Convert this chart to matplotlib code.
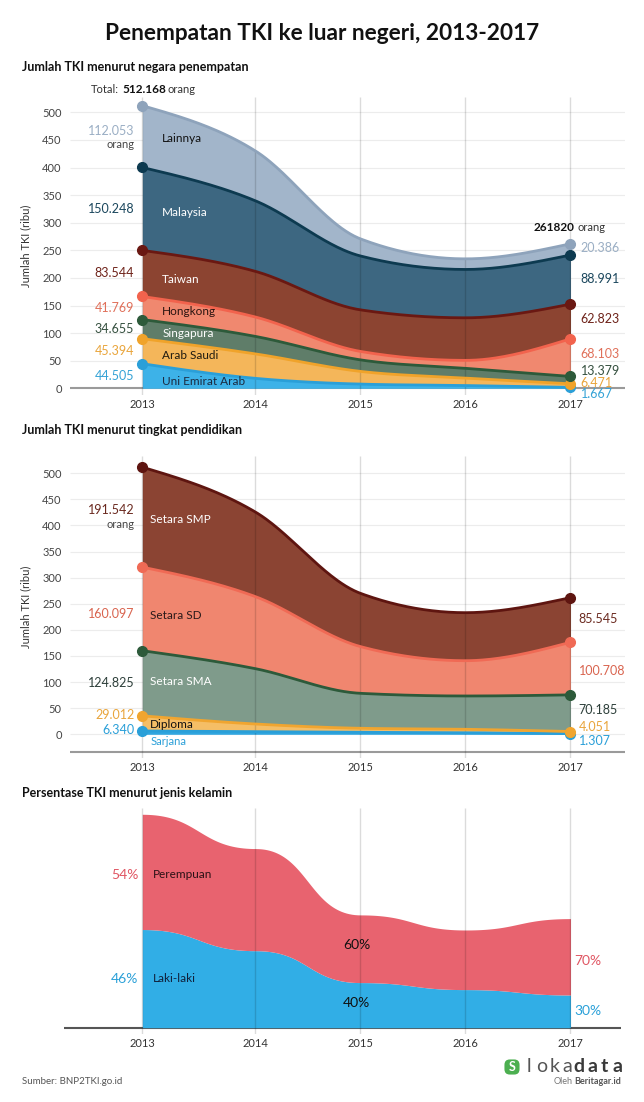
import numpy as np
import matplotlib.pyplot as plt
from matplotlib.patches import FancyBboxPatch

plt.rcParams['font.family'] = ['Lato', 'DejaVu Sans']

W, H = 644, 1102

# ---------------- data (ribu orang) ----------------
years = ['2013', '2014', '2015', '2016', '2017']

negara = ['Uni Emirat Arab', 'Arab Saudi', 'Singapura', 'Hongkong', 'Taiwan', 'Malaysia', 'Lainnya']
uea = [44.505, 18.0, 7.6, 5.0, 1.667]
saudi = [45.394, 44.3, 23.0, 13.5, 6.471]
singapura = [34.655, 31.7, 20.9, 17.7, 13.379]
hongkong = [41.769, 35.1, 15.3, 14.4, 68.103]
taiwan = [83.544, 82.7, 75.3, 77.1, 62.823]
malaysia = [150.248, 127.8, 97.6, 87.6, 88.991]
lainnya = [112.053, 90.3, 31.0, 19.2, 20.386]

pendidikan = ['Sarjana', 'Diploma', 'Setara SMA', 'Setara SD', 'Setara SMP']
sarjana = [6.340, 5.0, 3.8, 3.0, 1.307]
diploma = [29.012, 14.7, 7.7, 6.6, 4.051]
sma = [124.825, 106.0, 67.0, 63.8, 70.185]
sd = [160.097, 138.0, 89.5, 67.6, 100.708]
smp = [191.542, 162.0, 102.0, 92.0, 85.545]

laki_pct = [46, 43, 40, 39, 30]   # persen laki-laki, sisanya perempuan

# ---------------- styles ----------------
neg_fill = ['#3db2e8', '#f4b65a', '#5f7d69', '#f0886f', '#8c4431', '#3d6781', '#a2b5ca']
neg_line = ['#2a9fd8', '#f0a32a', '#2d5a3a', '#f2634d', '#6a1812', '#0d3a50', '#8ea3bb']
neg_lab = ['#35a3d6', '#e9a53c', '#35503f', '#e0705a', '#6e2219', '#1b475d', '#9aaec4']
neg_in = ['#1b2a40', '#1f1a10', 'white', '#2a1410', 'white', 'white', '#111111']

edu_fill = ['#2fa6e0', '#f5be66', '#7f9b8b', '#f0866f', '#8b4433']
edu_line = ['#2a9fd8', '#f0a530', '#2d5a3a', '#f06a55', '#5e1510']
edu_lab = ['#2a9fd8', '#e9a53c', '#2d3f3a', '#d9644f', '#6b2a20']
edu_in = ['#2a9fd8', '#111111', 'white', '#2a1a1a', 'white']

xpos = [0, 1.078, 2.078, 3.078, 4.078]   # 2013 sedikit lebih jauh, seperti aslinya


def monotone_x(x, y, n=50):
    x = np.asarray(x, float)
    y = np.asarray(y, float)
    h = np.diff(x)
    d = np.diff(y) / h
    m = np.zeros_like(y)
    for i in range(1, len(y) - 1):
        p = (d[i - 1] * h[i] + d[i] * h[i - 1]) / (h[i - 1] + h[i])
        m[i] = (np.sign(d[i - 1]) + np.sign(d[i])) * min(abs(d[i - 1]), abs(d[i]), 0.5 * abs(p))
    m[0] = (3 * d[0] - m[1]) / 2
    m[-1] = (3 * d[-1] - m[-2]) / 2
    xs, ys = [], []
    for i in range(len(x) - 1):
        t = np.linspace(0, 1, n, endpoint=(i == len(x) - 2))
        h00 = 2 * t**3 - 3 * t**2 + 1
        h10 = t**3 - 2 * t**2 + t
        h01 = -2 * t**3 + 3 * t**2
        h11 = t**3 - t**2
        xs.append(x[i] + t * h[i])
        ys.append(h00 * y[i] + h10 * h[i] * m[i] + h01 * y[i + 1] + h11 * h[i] * m[i + 1])
    return np.concatenate(xs), np.concatenate(ys)


def bump_x(x, y, n=50):
    xs, ys = [], []
    for i in range(len(x) - 1):
        t = np.linspace(0, 1, n, endpoint=(i == len(x) - 2))
        x0, x1, y0, y1 = x[i], x[i + 1], y[i], y[i + 1]
        xm = (x0 + x1) / 2
        a, b, c, e = (1 - t)**3, 3 * (1 - t)**2 * t, 3 * (1 - t) * t**2, t**3
        xs.append(a * x0 + b * xm + c * xm + e * x1)
        ys.append(a * y0 + b * y0 + c * y1 + e * y1)
    return np.concatenate(xs), np.concatenate(ys)


fig = plt.figure(figsize=(W / 100, H / 100), dpi=100)
fig.patch.set_facecolor('white')


def ftext(x, y, s, **kw):
    fig.text(x / W, 1 - y / H, s, **kw)


def make_ax(left, right, top, bottom, xlim, ylim):
    ax = fig.add_axes([left / W, 1 - bottom / H, (right - left) / W, (bottom - top) / H])
    ax.set_xlim(*xlim)
    ax.set_ylim(*ylim)
    for s in ax.spines.values():
        s.set_visible(False)
    ax.set_facecolor('none')
    ax.set_xticks(xpos, years)
    ax.tick_params(axis='x', length=0, pad=3, labelsize=8, labelcolor='#333333')
    ax.tick_params(axis='y', length=0, pad=6, labelsize=8, labelcolor='#444444')
    ax.vlines(xpos, ylim[0], ylim[1], color='#000000', alpha=0.14, lw=1, zorder=2.5)
    return ax


def lab(ax, x, y, s, dx=0, dy=0, **kw):
    kw.setdefault('va', 'center')
    ax.annotate(s, (x, y), xytext=(dx, dy), textcoords='offset pixels', **kw)


def stack(ax, series, fills, lines, interp):
    cum = np.cumsum(np.array(series, float), axis=0)
    lower = None
    curves = []
    for i, row in enumerate(cum):
        xs, top = interp(xpos, row)
        base = np.zeros_like(top) if lower is None else lower
        ax.fill_between(xs, base, top, color=fills[i], lw=0, zorder=2)
        curves.append((xs, top))
        lower = top
    return cum, curves


xl = ((70 - 142.3) / 105, (625 - 142.3) / 105)

# ---------------- chart 1: negara ----------------
ax1 = make_ax(70, 625, 97, 395, xl, (-(395 - 388.3) / 0.552, (388.3 - 97) / 0.552))
ax1.hlines(np.arange(50, 501, 50), *xl, color='#ececec', lw=0.8, zorder=1)
ax1.axhline(0, color='#9a9a9a', lw=1.5, zorder=1.5)
ax1.set_yticks(np.arange(0, 501, 50))
neg_series = [uea, saudi, singapura, hongkong, taiwan, malaysia, lainnya]
cum1, curves1 = stack(ax1, neg_series, neg_fill, neg_line, monotone_x)
for i, (xs, top) in enumerate(curves1):
    ax1.plot(xs, top, color=neg_line[i], lw=2, zorder=3)
    ax1.plot([xpos[0], xpos[-1]], [cum1[i][0], cum1[i][-1]], 'o', color=neg_line[i], ms=7, zorder=4)
ax1.set_ylabel('Jumlah TKI (ribu)', fontsize=8, color='#333333', labelpad=8)

in_dy1 = [-5, -4, -4, -3, -6, -4, -2]
right_dy1 = [-6, 3, 9, 4, 2.5, 0.5, 1]
for i, vals in enumerate(neg_series):
    lo0 = cum1[i - 1][0] if i else 0
    lo1 = cum1[i - 1][-1] if i else 0
    mid0 = (lo0 + cum1[i][0]) / 2
    mid1 = (lo1 + cum1[i][-1]) / 2
    if negara[i] == 'Lainnya':
        lab(ax1, xpos[0], mid0, f'{vals[0]:.3f}', dx=-8, dy=6, ha='right', fontsize=9, color=neg_lab[i])
        lab(ax1, xpos[0], mid0, 'orang', dx=-8, dy=-8, ha='right', fontsize=8, color='#444444')
    else:
        lab(ax1, xpos[0], mid0, f'{vals[0]:.3f}', dx=-8, ha='right', fontsize=9, color=neg_lab[i])
    lab(ax1, xpos[0], mid0, negara[i], dx=20, dy=in_dy1[i], ha='left', fontsize=8.5, color=neg_in[i])
    lab(ax1, xpos[-1], mid1, f'{vals[-1]:.3f}', dx=10, dy=right_dy1[i], ha='left', fontsize=9, color=neg_lab[i])

tot0 = cum1[-1][0]
tot1 = cum1[-1][-1]
lab(ax1, xpos[0], tot0, 'Total:', dx=-23, dy=16, ha='right', fontsize=8, color='#333333')
lab(ax1, xpos[0], tot0, f'{tot0:.3f}', dx=-20, dy=16, ha='left', fontsize=8.5, color='#111111', fontweight='bold')
lab(ax1, xpos[0], tot0, 'orang', dx=25, dy=16, ha='left', fontsize=8, color='#333333')
lab(ax1, xpos[-1], tot1, f'{round(tot1 * 1000):d}', dx=4, dy=16, ha='right', fontsize=8.5, color='#111111', fontweight='bold')
lab(ax1, xpos[-1], tot1, 'orang', dx=7, dy=16, ha='left', fontsize=8, color='#333333')

# ---------------- chart 2: pendidikan ----------------
ax2 = make_ax(70, 625, 456, 758, xl, ((734.3 - 758) / 0.522, (734.3 - 456) / 0.522))
ax2.hlines(np.arange(0, 501, 50), *xl, color='#ececec', lw=0.8, zorder=1)
ax2.axhline((734.3 - 752) / 0.522, color='#9a9a9a', lw=1.5, zorder=1.5)
ax2.set_yticks(np.arange(0, 501, 50))
edu_series = [sarjana, diploma, sma, sd, smp]
cum2, curves2 = stack(ax2, edu_series, edu_fill, edu_line, monotone_x)
for i, (xs, top) in enumerate(curves2):
    ax2.plot(xs, top, color=edu_line[i], lw=2, zorder=3)
    ax2.plot([xpos[0], xpos[-1]], [cum2[i][0], cum2[i][-1]], 'o', color=edu_line[i], ms=7, zorder=4)
ax2.set_ylabel('Jumlah TKI (ribu)', fontsize=8, color='#333333', labelpad=8)

left_dy2 = [3, 8, 0, -5, 0]
in_dy2 = [-9, -1, 2, -7, -2]
right_dy2 = [-7, 6, 3, -2, 0.5]
for i, vals in enumerate(edu_series):
    lo0 = cum2[i - 1][0] if i else 0
    lo1 = cum2[i - 1][-1] if i else 0
    mid0 = (lo0 + cum2[i][0]) / 2
    mid1 = (lo1 + cum2[i][-1]) / 2
    if pendidikan[i] == 'Setara SMP':
        lab(ax2, xpos[0], mid0, f'{vals[0]:.3f}', dx=-8, dy=7, ha='right', fontsize=9, color=edu_lab[i])
        lab(ax2, xpos[0], mid0, 'orang', dx=-8, dy=-7, ha='right', fontsize=8, color='#444444')
    else:
        lab(ax2, xpos[0], mid0, f'{vals[0]:.3f}', dx=-8, dy=left_dy2[i], ha='right', fontsize=9, color=edu_lab[i])
    if pendidikan[i] == 'Sarjana':
        lab(ax2, xpos[0], 0, pendidikan[i], dx=8, dy=-(741.7 - 734.3), ha='left', fontsize=8, color=edu_in[i])
    else:
        lab(ax2, xpos[0], mid0, pendidikan[i], dx=8, dy=in_dy2[i], ha='left', fontsize=8.5, color=edu_in[i])
    lab(ax2, xpos[-1], mid1, f'{vals[-1]:.3f}', dx=8, dy=right_dy2[i], ha='left', fontsize=9, color=edu_lab[i])

# ---------------- chart 3: jenis kelamin ----------------
tot = cum1[-1]
laki = tot * np.array(laki_pct) / 100
perempuan = tot - laki
ax3 = make_ax(64, 621, 808, 1034, ((64 - 142.3) / 105, (621 - 142.3) / 105),
              (-(1034 - 1027.7) / 0.4167, (1027.7 - 808) / 0.4167))
ax3.set_yticks([])
ax3.axhline(0, color='#555555', lw=1.5, zorder=1.5)
xs, top_l = bump_x(xpos, laki)
_, top_t = bump_x(xpos, tot)
ax3.fill_between(xs, 0, top_l, color='#31aee6', lw=0, zorder=2)
ax3.fill_between(xs, top_l, top_t, color='#e8636f', lw=0, zorder=2)

lab(ax3, xpos[0], (laki[0] + tot[0]) / 2, f'{100 - laki_pct[0]}%', dx=-4, dy=-3, ha='right', fontsize=10, color='#e05663')
lab(ax3, xpos[0], laki[0] / 2, f'{laki_pct[0]}%', dx=-4, ha='right', fontsize=10, color='#2aa0d8')
lab(ax3, xpos[0], (laki[0] + tot[0]) / 2, 'Perempuan', dx=11, dy=-3, ha='left', fontsize=8.5, color='#2a1015')
lab(ax3, xpos[0], laki[0] / 2, 'Laki-laki', dx=11, ha='left', fontsize=8.5, color='#10203a')
lab(ax3, xpos[2], (laki[2] + tot[2]) / 2, f'{100 - laki_pct[2]}%', dx=-4, dy=4, ha='center', fontsize=10, color='#111111')
lab(ax3, xpos[2], laki[2] / 2, f'{laki_pct[2]}%', dx=-4, dy=2, ha='center', fontsize=10, color='#111111')
lab(ax3, xpos[-1], (laki[-1] + tot[-1]) / 2, f'{100 - laki_pct[-1]}%', dx=4, dy=-4, ha='left', fontsize=10, color='#e05663')
lab(ax3, xpos[-1], laki[-1] / 2, f'{laki_pct[-1]}%', dx=4, ha='left', fontsize=10, color='#2aa0d8')

# ---------------- titles and footer ----------------
ftext(322, 33, 'Penempatan TKI ke luar negeri, 2013-2017', ha='center', va='center',
      fontsize=16.3, fontweight='bold', color='#111111')
ftext(22, 67, 'Jumlah TKI menurut negara penempatan', ha='left', va='center',
      fontsize=9, fontweight='bold', color='#111111')
ftext(22, 430, 'Jumlah TKI menurut tingkat pendidikan', ha='left', va='center',
      fontsize=9, fontweight='bold', color='#111111')
ftext(22, 793, 'Persentase TKI menurut jenis kelamin', ha='left', va='center',
      fontsize=9, fontweight='bold', color='#111111')
ftext(22, 1081, 'Sumber: BNP2TKI.go.id', ha='left', va='center', fontsize=7, color='#555555')

# logo
icon = fig.add_axes([503 / W, 1 - 1076 / H, 18 / W, 18 / H])
icon.set_xlim(0, 1)
icon.set_ylim(0, 1)
icon.axis('off')
icon.add_patch(FancyBboxPatch((0.08, 0.08), 0.84, 0.84, boxstyle='round,pad=0,rounding_size=0.3',
                              fc='#4caf50', ec='none'))
icon.text(0.5, 0.48, 'S', ha='center', va='center', fontsize=9, fontweight='bold', color='white')
for i, ch in enumerate('lokadata'):
    ftext(529 + i * 12.6, 1066, ch, ha='center', va='center', fontsize=14,
          color='#555555' if i < 4 else '#3a3a3a', fontweight='normal' if i < 4 else 'bold')
ftext(621, 1082, 'Beritagar.id', ha='right', va='center', fontsize=6.5, fontweight='bold', color='#555555')
ftext(573, 1082, 'Oleh', ha='right', va='center', fontsize=6.5, color='#777777')

fig.savefig('out.png', dpi=100, facecolor='white')
